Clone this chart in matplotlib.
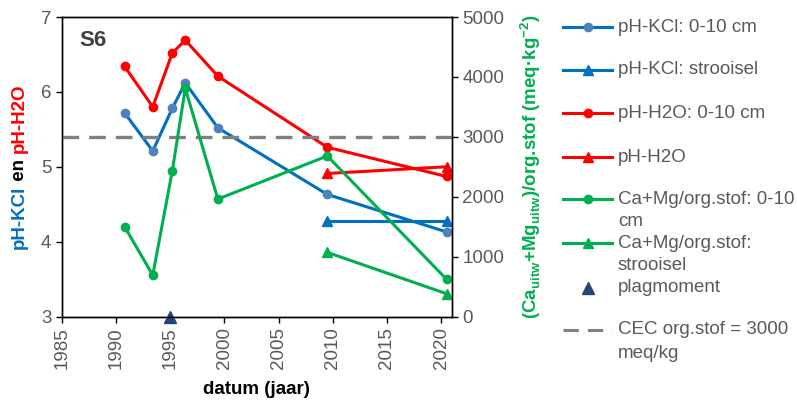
import matplotlib
matplotlib.use("Agg")
import matplotlib.pyplot as plt
from matplotlib.lines import Line2D

plt.rcParams['font.family'] = ['Liberation Sans', 'DejaVu Sans']
plt.rcParams['mathtext.fontset'] = 'custom'
plt.rcParams['mathtext.rm'] = 'Liberation Sans'
plt.rcParams['mathtext.bf'] = 'Liberation Sans:bold'

# meetjaren en waarden
jaar = [1990.8, 1993.4, 1995.2, 1996.4, 1999.4, 2009.5, 2020.5]
ph_kcl = [5.72, 5.21, 5.78, 6.12, 5.52, 4.63, 4.13]
ph_h2o = [6.34, 5.80, 6.52, 6.69, 6.21, 5.26, 4.87]
camg = [1500, 690, 2430, 3810, 1960, 2680, 620]

jaar_str = [2009.5, 2020.5]
ph_kcl_str = [4.28, 4.28]
ph_h2o_str = [4.91, 5.00]
camg_str = [1070, 380]

plagmoment = 1995
cec = 3000

BLUE = '#0070C0'
LBLUE = '#4F81BD'
RED = '#FF0000'
GREEN = '#00B050'
GREY = '#808080'
DARK = '#264478'
TXT = '#595959'
FS = 13.5

W, H = 797, 403
fig = plt.figure(figsize=(W / 100, H / 100), dpi=100)

def px(x, y):
    return x / W, 1 - y / H

ax = fig.add_axes([61.7 / W, 1 - 316.5 / H, (452 - 61.7) / W, (316.5 - 17) / H])
ax2 = ax.twinx()

lw = 2.2
ax.plot(jaar, ph_kcl, color=BLUE, lw=lw, marker='o', ms=6, mfc=LBLUE, mec=LBLUE)
ax.plot(jaar_str, ph_kcl_str, color=BLUE, lw=lw, marker='^', ms=7.5)
ax.plot(jaar, ph_h2o, color=RED, lw=lw, marker='o', ms=6)
ax.plot(jaar_str, ph_h2o_str, color=RED, lw=lw, marker='^', ms=7.5)
ax.plot([plagmoment], [3], ls='none', marker='^', ms=9, color=DARK, clip_on=False, zorder=5)

ax2.axhline(cec, color=GREY, lw=2.4, dashes=(5, 3))
ax2.plot(jaar, camg, color=GREEN, lw=lw, marker='o', ms=6)
ax2.plot(jaar_str, camg_str, color=GREEN, lw=lw, marker='^', ms=7.5)

ax.set_xlim(1985, 2021)
ax.set_ylim(3, 7)
ax2.set_ylim(0, 5000)
ax.set_xticks(range(1985, 2021, 5))
ax.set_yticks(range(3, 8))
ax2.set_yticks(range(0, 5001, 1000))

for a in (ax, ax2):
    a.tick_params(labelsize=FS, labelcolor=TXT, length=4, width=1, direction='out')
    for s in a.spines.values():
        s.set_linewidth(1)
ax.tick_params(axis='x', labelrotation=90)

ax.set_xlabel('datum (jaar)', fontsize=FS, fontweight='bold', labelpad=9)
ax2.set_ylabel(r'(Ca$_\mathbf{uitw}$+Mg$_\mathbf{uitw}$)/org.stof (meq·kg$^\mathbf{-2}$)',
               fontsize=FS, fontweight='bold', color=GREEN, labelpad=10)

ax.text(0.045, 0.92, 'S6', transform=ax.transAxes, fontsize=16, fontweight='bold',
        color='#404040', va='center', ha='left')

# meerkleurig y-label links, van onder naar boven
fig.canvas.draw()
r = fig.canvas.get_renderer()
parts = [('pH-KCl', BLUE), (' en ', 'black'), ('pH-H2O', RED)]
xs = 24 / W
texts = []
for s, c in parts:
    t = fig.text(xs, 0, s, rotation=90, fontsize=FS, fontweight='bold', color=c,
                 ha='left', va='baseline', rotation_mode='anchor')
    texts.append(t)
heights = [t.get_window_extent(r).height for t in texts]
ystart = (H - 166.5) - sum(heights) / 2
for t, h in zip(texts, heights):
    t.set_position((xs, ystart / H))
    ystart += h

# legenda
leg = [
    (27, dict(color=BLUE, marker='o', mfc=LBLUE, mec=LBLUE, ms=6), ['pH-KCl: 0-10 cm']),
    (70, dict(color=BLUE, marker='^', ms=7.5), ['pH-KCl: strooisel']),
    (113, dict(color=RED, marker='o', ms=6), ['pH-H2O: 0-10 cm']),
    (157, dict(color=RED, marker='^', ms=7.5), ['pH-H2O']),
    (199, dict(color=GREEN, marker='o', ms=6), ['Ca+Mg/org.stof: 0-10', 'cm']),
    (243, dict(color=GREEN, marker='^', ms=7.5), ['Ca+Mg/org.stof:', 'strooisel']),
    (288, dict(color=DARK, marker='^', ms=9, ls='none'), ['plagmoment']),
    (330, dict(color=GREY, dashes=(5, 3)), ['CEC org.stof = 3000', 'meq/kg']),
]
for y, style, lines in leg:
    x0, yy = px(563, y)
    x1, _ = px(612, y)
    xm, _ = px(587.5, y)
    kw = dict(style)
    mk = kw.pop('marker', None)
    ms = kw.pop('ms', None)
    mfc = kw.pop('mfc', None)
    mec = kw.pop('mec', None)
    if kw.get('ls') != 'none':
        fig.add_artist(Line2D([x0, x1], [yy, yy], lw=lw, transform=fig.transFigure, **kw))
    if mk:
        fig.add_artist(Line2D([xm], [yy], ls='none', marker=mk, ms=ms, color=style['color'],
                              mfc=mfc or style['color'], mec=mec or style['color'],
                              transform=fig.transFigure))
    for i, s in enumerate(lines):
        tx, ty = px(618, y + 23 * i)
        fig.text(tx, ty, s, fontsize=FS, color=TXT, va='center', ha='left')

fig.savefig('out.png', dpi=100)
